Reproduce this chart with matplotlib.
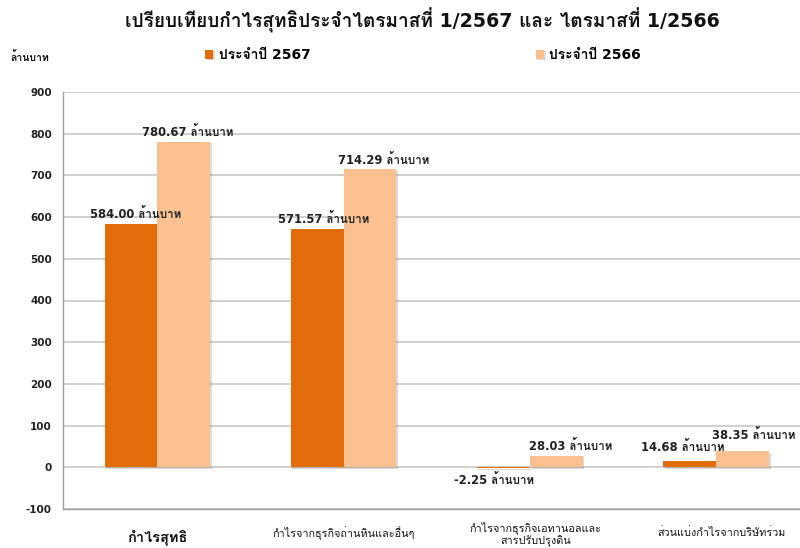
import numpy as np
import matplotlib
matplotlib.use("Agg")
from matplotlib import pyplot as plt
from matplotlib import font_manager
from matplotlib import patheffects as pe
from matplotlib.ft2font import FT2Font


def find_thai_font():
    # look for any installed face that has Thai glyphs
    for f in font_manager.fontManager.ttflist:
        try:
            if FT2Font(f.fname).get_char_index(ord("ก")):
                return f.name
        except Exception:
            pass
    return None


thai = find_thai_font()
families = ["DejaVu Sans"] + ([thai] if thai and thai != "DejaVu Sans" else [])
plt.rcParams["font.family"] = families

categories = ["กำไรสุทธิ", "กำไรจากธุรกิจถ่านหินและอื่นๆ",
              "กำไรจากธุรกิจเอทานอลและ\nสารปรับปรุงดิน", "ส่วนแบ่งกำไรจากบริษัทร่วม"]
series_names = ["ประจำปี 2567", "ประจำปี 2566"]
values_2567 = [584.00, 571.57, -2.25, 14.68]
values_2566 = [780.67, 714.29, 28.03, 38.35]
y_ticks = list(range(-100, 1000, 100))

c_2567 = "#E36C0A"
c_2566 = "#FAC090"

# label nudges (points) so neighbouring value labels don't collide
nudge_2567 = [(3, 2), (5, 2), (-7, -4), (-5, 5)]
nudge_2566 = [(3, 2), (10, 2), (10, 2), (8, 7)]

fig = plt.figure(figsize=(8, 5.48), dpi=100)
ax = fig.add_axes([63 / 800, 1 - 509 / 548, (811 - 63) / 800, (509 - 92) / 548])

x = np.arange(len(categories))
w = 0.284
shadow = [pe.SimplePatchShadow(offset=(1.2, -1.2), alpha=0.18), pe.Normal()]
b1 = ax.bar(x - w / 2, values_2567, w, color=c_2567, label=series_names[0], zorder=3)
b2 = ax.bar(x + w / 2, values_2566, w, color=c_2566, label=series_names[1], zorder=3)
for r in list(b1) + list(b2):
    r.set_path_effects(shadow)

for bars, vals, nudges in ((b1, values_2567, nudge_2567), (b2, values_2566, nudge_2566)):
    for rect, v, off in zip(bars, vals, nudges):
        cx = rect.get_x() + rect.get_width() / 2
        ax.annotate(f"{v:.2f} ล้านบาท", (cx, v), xytext=off, textcoords="offset points",
                    ha="center", va="bottom" if v >= 0 else "top",
                    fontsize=8.3, fontweight="bold", color="#222222", zorder=5)

ax.set_xlim(-0.507, 3.51)
ax.set_ylim(-100, 900)
ax.set_yticks(y_ticks)
ax.set_yticklabels([str(t) for t in y_ticks], fontsize=7.5, fontweight="bold", color="#222222")
ax.tick_params(axis="y", length=0, pad=8)
ax.grid(axis="y", color="#C8C8C8", linewidth=1.2, zorder=0)
ax.set_xticks([])

for i, cat in enumerate(categories):
    first = i == 0
    ax.annotate(cat, (x[i] + (0.03 if i >= 2 else 0.0), 0), xycoords=("data", "axes fraction"),
                xytext=(0, -20 if first else (-9 if "\n" in cat else -17)), textcoords="offset points",
                ha="center", va="top" if "\n" in cat else "center",
                fontsize=10.5 if first else 7.8, fontweight="bold" if first else "normal",
                color="#111111", linespacing=1.05, annotation_clip=False)

for side in ("top", "right"):
    ax.spines[side].set_visible(False)
for side in ("left", "bottom"):
    ax.spines[side].set_color("#A0A0A0")
    ax.spines[side].set_linewidth(1.0)

fig.text(422 / 800, 1 - 20 / 548, "เปรียบเทียบกำไรสุทธิประจำไตรมาสที่ 1/2567 และ ไตรมาสที่ 1/2566",
         ha="center", va="center", fontsize=13.7, fontweight="bold", color="#111111")
fig.text(10 / 800, 1 - 57 / 548, "ล้านบาท", ha="left", va="center",
         fontsize=7.5, fontweight="bold", color="#111111")

ax.legend(loc="center", bbox_to_anchor=(423 / 800, 1 - 55 / 548), bbox_transform=fig.transFigure,
          ncol=2, frameon=False, handlelength=0.6, handleheight=0.6, handletextpad=0.4,
          columnspacing=16.2, prop={"size": 10, "weight": "bold"})

fig.savefig("out.png", dpi=100)
